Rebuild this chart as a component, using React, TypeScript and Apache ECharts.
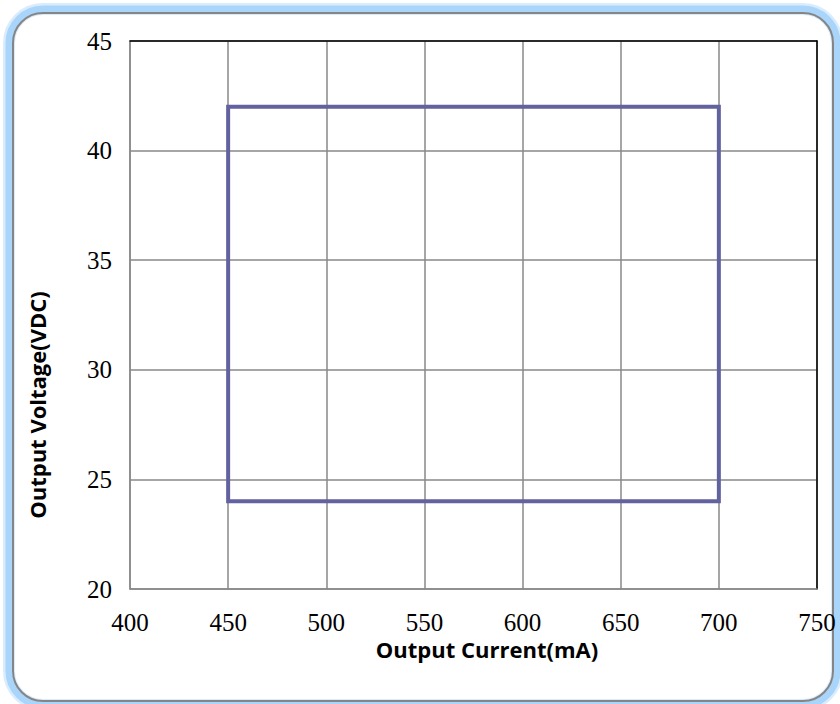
import React, { useEffect, useRef } from "react";
import * as echarts from "echarts";

const xTicks = [400, 450, 500, 550, 600, 650, 700, 750];
const yTicks = [20, 25, 30, 35, 40, 45];
const boundaryCurrent = [450, 450, 700, 700, 450];
const boundaryVoltage = [24, 42, 42, 24, 24];
const xTitle = "Output Current(mA)";
const yTitle = "Output Voltage(VDC)";

export default function App() {
  const ref = useRef<HTMLDivElement>(null);
  useEffect(() => {
    document.body.style.margin = "0";
    const chart = echarts.init(ref.current!, null, { renderer: "svg" });
    const data = boundaryCurrent.map((x, i) => [x, boundaryVoltage[i]]);
    const tickFont = { fontFamily: "Liberation Serif", fontSize: 25, lineHeight: 22, color: "#000" };
    const frame = { x: 13, y: 13, width: 820, height: 688, r: 30 };
    const glow = { x: 9, y: 9, width: 828, height: 696, r: 34 };
    chart.setOption({
      animation: false,
      backgroundColor: "#fff",
      grid: { left: 130, right: 23, top: 41, bottom: 115 },
      graphic: [
        {
          type: "rect",
          shape: glow,
          style: { fill: "#fff", stroke: "rgba(170,212,250,0.45)", lineWidth: 12 },
          z: -12,
          silent: true,
        },
        {
          type: "rect",
          shape: glow,
          style: { fill: "none", stroke: "#a9d5fa", lineWidth: 7 },
          z: -11,
          silent: true,
        },
        {
          type: "rect",
          shape: frame,
          style: { fill: "none", stroke: "#858585", lineWidth: 2 },
          z: -10,
          silent: true,
        },
        {
          type: "text",
          x: 487,
          y: 649,
          style: {
            text: xTitle,
            font: "bold 22px 'Open Sans'",
            lineHeight: 22,
            fill: "#000",
            align: "center",
            verticalAlign: "middle",
          },
        },
        {
          type: "text",
          x: 37,
          y: 405,
          rotation: Math.PI / 2,
          style: {
            text: yTitle,
            font: "bold 22px 'Open Sans'",
            lineHeight: 22,
            fill: "#000",
            align: "center",
            verticalAlign: "middle",
          },
        },
      ],
      xAxis: [
        {
          type: "value",
          min: xTicks[0],
          max: xTicks[xTicks.length - 1],
          interval: 50,
          axisLine: { show: true, lineStyle: { color: "#888", width: 1.5 } },
          axisTick: { show: false },
          axisLabel: { ...tickFont, margin: 22, showMaxLabel: true, showMinLabel: true },
          splitLine: { show: true, lineStyle: { color: "#888", width: 1.5 } },
        },
        {
          type: "value",
          position: "top",
          min: xTicks[0],
          max: xTicks[xTicks.length - 1],
          interval: 50,
          axisLine: { show: true, lineStyle: { color: "#000", width: 1.5 } },
          axisTick: { show: false },
          axisLabel: { show: false },
          splitLine: { show: false },
        },
      ],
      yAxis: [
        {
          type: "value",
          min: yTicks[0],
          max: yTicks[yTicks.length - 1],
          interval: 5,
          axisLine: { show: true, lineStyle: { color: "#888", width: 1.5 } },
          axisTick: { show: false },
          axisLabel: { ...tickFont, margin: 18 },
          splitLine: { show: true, lineStyle: { color: "#888", width: 1.5 } },
        },
        {
          type: "value",
          position: "right",
          min: yTicks[0],
          max: yTicks[yTicks.length - 1],
          interval: 5,
          axisLine: { show: true, lineStyle: { color: "#000", width: 1.5 } },
          axisTick: { show: false },
          axisLabel: { show: false },
          splitLine: { show: false },
        },
      ],
      series: [
        {
          type: "line",
          data,
          showSymbol: false,
          symbol: "none",
          lineStyle: { color: "#62629f", width: 4, join: "miter", cap: "square" },
          z: 5,
        },
      ],
    });
    return () => chart.dispose();
  }, []);
  return <div ref={ref} style={{ width: 840, height: 704 }} />;
}
